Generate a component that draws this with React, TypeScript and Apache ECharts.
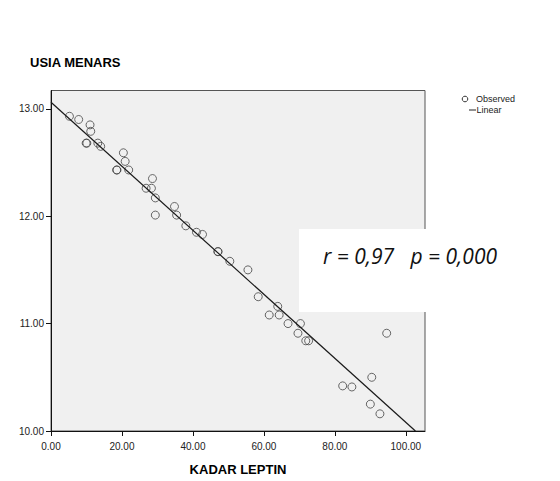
import React, { useEffect, useRef } from "react";
import * as echarts from "echarts";

const titleText = "USIA MENARS";
const xAxisTitle = "KADAR LEPTIN";
const statText = "r = 0,97   p = 0,000";
const legendLabels = ["Observed", "Linear"];

const xTicks = [0, 20, 40, 60, 80, 100];
const yTicks = [10, 11, 12, 13];

// Observed points: KADAR LEPTIN (x) and USIA MENARS (y)
const leptin = [
  5.2, 7.8, 11.0, 11.2, 9.9, 10.1, 13.2, 14.0, 20.4, 20.9, 18.5, 18.6, 21.9,
  28.6, 26.8, 28.3, 29.4, 29.4, 34.8, 35.4, 38.0, 41.0, 42.7, 47.0, 47.1, 50.4,
  55.5, 58.4, 63.9, 61.5, 64.3, 66.8, 70.3, 69.6, 71.8, 72.6, 94.6, 90.4, 82.2,
  84.8, 90.0, 92.7,
];
const usia = [
  12.93, 12.9, 12.85, 12.79, 12.68, 12.68, 12.68, 12.65, 12.59, 12.51, 12.43,
  12.43, 12.43, 12.35, 12.26, 12.26, 12.17, 12.01, 12.09, 12.01, 11.91, 11.85,
  11.83, 11.67, 11.67, 11.58, 11.5, 11.25, 11.16, 11.08, 11.08, 11.0, 11.0,
  10.91, 10.84, 10.84, 10.91, 10.5, 10.42, 10.41, 10.25, 10.16,
];

// Linear fit line end points
const fitX = [0, 102.7];
const fitY = [13.06, 10.0];

export default function App() {
  const ref = useRef<HTMLDivElement>(null);
  useEffect(() => {
    if (!ref.current) return;
    const chart = echarts.init(ref.current, null, { renderer: "svg" });
    const font = "Liberation Sans, Arial, sans-serif";
    chart.setOption({
      animation: false,
      backgroundColor: "#ffffff",
      title: {
        text: titleText,
        left: 25,
        top: 51,
        textStyle: { fontSize: 13, fontWeight: "bold", color: "#000", fontFamily: font },
      },
      grid: {
        left: 51,
        top: 90.5,
        width: 374,
        height: 345.5,
        show: true,
        backgroundColor: "#f0f0f0",
        borderColor: "#555",
        borderWidth: 1,
      },
      xAxis: {
        type: "value",
        min: 0,
        max: 105.4,
        interval: 20,
        name: xAxisTitle,
        nameLocation: "middle",
        nameGap: 32,
        nameTextStyle: { fontSize: 13, fontWeight: "bold", color: "#000", fontFamily: font },
        axisLine: { show: true, lineStyle: { color: "#111", width: 1 } },
        axisTick: { show: true, length: 5, lineStyle: { color: "#111" }, customValues: xTicks },
        axisLabel: {
          fontSize: 10,
          color: "#222",
          margin: 10,
          fontFamily: "Liberation Sans Narrow, Liberation Sans, Arial, sans-serif",
          customValues: xTicks,
          formatter: (v: number) => v.toFixed(2),
        },
        splitLine: { show: false },
      },
      yAxis: {
        type: "value",
        min: 10,
        max: 13.17,
        interval: 1,
        axisLine: { show: true, lineStyle: { color: "#111", width: 1 } },
        axisTick: { show: true, length: 5, lineStyle: { color: "#111" }, customValues: yTicks },
        axisLabel: {
          fontSize: 10,
          color: "#222",
          margin: 7,
          fontFamily: "Liberation Sans Narrow, Liberation Sans, Arial, sans-serif",
          customValues: yTicks,
          formatter: (v: number) => v.toFixed(2),
        },
        splitLine: { show: false },
      },
      series: [
        {
          name: legendLabels[0],
          type: "scatter",
          symbol: "circle",
          symbolSize: 8,
          itemStyle: { color: "rgba(0,0,0,0)", borderColor: "#444", borderWidth: 1 },
          data: leptin.map((x, i) => [x, usia[i]]),
          z: 3,
        },
        {
          name: legendLabels[1],
          type: "line",
          showSymbol: false,
          symbol: "none",
          clip: true,
          lineStyle: { color: "#1a1a1a", width: 1.2 },
          data: fitX.map((x, i) => [x, fitY[i]]),
          z: 4,
        },
      ],
      graphic: [
        {
          type: "rect",
          shape: { x: 299, y: 229, width: 215, height: 83 },
          style: { fill: "#ffffff" },
          z: 100,
        },
        {
          type: "text",
          x: 410,
          y: 256,
          style: {
            text: statText,
            font: "italic 21px 'Open Sans', 'Liberation Sans', sans-serif",
            fill: "#111",
            textAlign: "center",
            textVerticalAlign: "middle",
          },
          z: 101,
        },
        {
          type: "circle",
          shape: { cx: 465, cy: 99, r: 2.8 },
          style: { fill: "none", stroke: "#333", lineWidth: 1 },
          z: 100,
        },
        {
          type: "text",
          x: 476,
          y: 99,
          style: {
            text: legendLabels[0],
            font: "9px 'Liberation Sans', Arial, sans-serif",
            fill: "#222",
            textVerticalAlign: "middle",
          },
          z: 100,
        },
        {
          type: "line",
          shape: { x1: 469, y1: 110, x2: 476, y2: 110 },
          style: { stroke: "#222", lineWidth: 1 },
          z: 100,
        },
        {
          type: "text",
          x: 476.5,
          y: 110,
          style: {
            text: legendLabels[1],
            font: "9px 'Liberation Sans', Arial, sans-serif",
            fill: "#222",
            textVerticalAlign: "middle",
          },
          z: 100,
        },
      ],
    });
    return () => chart.dispose();
  }, []);
  return (
    <div
      ref={ref}
      style={{ position: "fixed", left: 0, top: 0, width: 560, height: 481 }}
    />
  );
}
